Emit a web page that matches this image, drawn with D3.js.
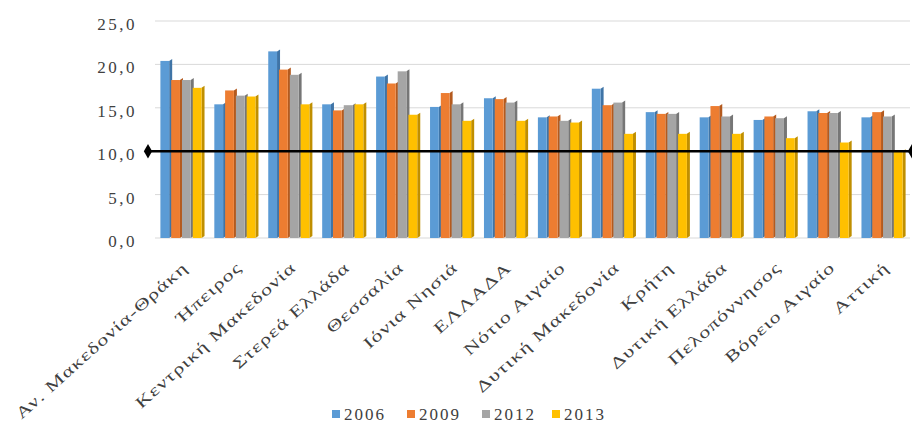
<!DOCTYPE html>
<html lang="el">
	<head>
		<meta charset="utf-8">
		<title>Περιφέρειες 2006-2013</title>
		<script type="text/javascript" src="https://cdn.jsdelivr.net/npm/d3@7"></script>
		<style type="text/css">
			body { margin: 0; background: #fff; }
			text { font-family: "Liberation Serif", "DejaVu Serif", serif; fill: #404040; }
		</style>
	</head>
	<body>
		<script type="text/javascript">

			//Data
			var regions = ["Αν. Μακεδονία-Θράκη", "Ήπειρος", "Κεντρική Μακεδονία", "Στερεά Ελλάδα",
				"Θεσσαλία", "Ιόνια Νησιά", "ΕΛΛΑΔΑ", "Νότιο Αιγαίο", "Δυτική Μακεδονία", "Κρήτη",
				"Δυτική Ελλάδα", "Πελοπόννησος", "Βόρειο Αιγαίο", "Αττική"];
			var years = ["2006", "2009", "2012", "2013"];
			var v2006 = [20.4, 15.4, 21.5, 15.4, 18.6, 15.1, 16.1, 13.9, 17.2, 14.5, 13.9, 13.6, 14.6, 13.9];
			var v2009 = [18.2, 17.0, 19.4, 14.7, 17.8, 16.7, 16.0, 14.0, 15.3, 14.3, 15.2, 14.0, 14.4, 14.5];
			var v2012 = [18.2, 16.4, 18.8, 15.3, 19.2, 15.4, 15.6, 13.5, 15.6, 14.3, 14.0, 13.8, 14.4, 14.0];
			var v2013 = [17.3, 16.3, 15.4, 15.4, 14.2, 13.5, 13.5, 13.3, 12.0, 12.0, 12.0, 11.5, 11.0, 10.0];
			var yTicks = [0, 5, 10, 15, 20, 25];
			var refLine = 10;

			var series = [v2006, v2009, v2012, v2013];
			var colors = ["#5b9bd5", "#ed7d31", "#a5a5a5", "#ffc000"];
			var sides = ["#3f74a6", "#b45a1e", "#767676", "#c08f00"];

			//Width and height
			var w = 912;
			var h = 447;
			var plotLeft = 155, plotRight = 910, plotTop = 21, plotBottom = 238;

			var svg = d3.select("body")
						.append("svg")
						.attr("width", w)
						.attr("height", h);

			var x0 = d3.scaleBand()
						.domain(regions)
						.range([plotLeft, plotRight])
						.paddingInner(0.2)
						.paddingOuter(0.1);

			var x1 = d3.scaleBand()
						.domain(years)
						.range([0, x0.bandwidth()]);

			var y = d3.scaleLinear()
						.domain([0, 25])
						.range([plotBottom, plotTop]);

			//Grid lines
			svg.append("g")
			   .selectAll("line")
			   .data(yTicks)
			   .enter()
			   .append("line")
			   .attr("x1", plotLeft)
			   .attr("x2", plotRight)
			   .attr("y1", function(d) { return y(d); })
			   .attr("y2", function(d) { return y(d); })
			   .style("stroke", "#d9d9d9")
			   .style("stroke-width", 1);

			//Y labels
			var yAxis = d3.axisLeft(y)
						.tickValues(yTicks)
						.tickSize(0)
						.tickPadding(0)
						.tickFormat(function(d) { return d3.format(".1f")(d).replace(".", ","); });

			var ya = svg.append("g")
			   .attr("transform", "translate(137,3)")
			   .call(yAxis);
			ya.select(".domain").remove();
			ya.selectAll("text")
			  .style("font-size", "17px")
			  .style("letter-spacing", "2.5px")
			  .style("font-family", "Liberation Serif, serif")
			  .attr("fill", "#404040");

			//Bars
			var groups = svg.selectAll("g.region")
			   .data(regions)
			   .enter()
			   .append("g")
			   .attr("class", "region")
			   .attr("transform", function(d) { return "translate(" + x0(d) + ",0)"; });

			years.forEach(function(yr, si) {
				var bw = x1.bandwidth();
				//side face (3D look)
				groups.append("polygon")
				   .attr("points", function(d, i) {
						var xa = x1(yr) + bw - 2, xb = x1(yr) + bw + 1;
						var yt = y(series[si][i]);
						return [[xa, yt], [xb, yt - 2], [xb, plotBottom - 2], [xa, plotBottom]].join(" ");
				   })
				   .style("fill", sides[si]);
				groups.append("rect")
				   .attr("x", x1(yr))
				   .attr("y", function(d, i) { return y(series[si][i]); })
				   .attr("width", bw - 2)
				   .attr("height", function(d, i) { return plotBottom - y(series[si][i]); })
				   .style("fill", colors[si]);
			});

			//Reference line at 10
			svg.append("line")
			   .attr("x1", 148)
			   .attr("x2", 912)
			   .attr("y1", y(refLine))
			   .attr("y2", y(refLine))
			   .style("stroke", "#000")
			   .style("stroke-width", 2.5);

			svg.selectAll("path.marker")
			   .data([148, 912])
			   .enter()
			   .append("path")
			   .attr("class", "marker")
			   .attr("d", d3.symbol().type(d3.symbolDiamond).size(60))
			   .attr("transform", function(d) { return "translate(" + d + "," + y(refLine) + ")"; })
			   .style("fill", "#000");

			//X labels (glyphs look stretched in the original)
			svg.append("g")
			   .selectAll("text")
			   .data(regions)
			   .enter()
			   .append("text")
			   .attr("transform", function(d) {
					return "translate(" + (x0(d) + x0.bandwidth() / 2 + 7) + ",269) rotate(-42) scale(1.38,1)";
			   })
			   .attr("text-anchor", "end")
			   .style("font-size", "16px")
			   .style("letter-spacing", "0.8px")
			   .text(function(d) { return d; });

			//Legend
			var legX = [332, 407, 482, 552];
			var leg = svg.append("g")
			   .selectAll("g")
			   .data(years)
			   .enter()
			   .append("g")
			   .attr("transform", function(d, i) { return "translate(" + legX[i] + ",414)"; });

			leg.append("rect")
			   .attr("x", 0)
			   .attr("y", -4)
			   .attr("width", 8)
			   .attr("height", 8)
			   .style("fill", function(d, i) { return colors[i]; });

			leg.append("text")
			   .attr("x", 12)
			   .attr("y", 6)
			   .style("font-size", "17px")
			   .style("letter-spacing", "2px")
			   .text(function(d) { return d; });

		</script>
	</body>
</html>
